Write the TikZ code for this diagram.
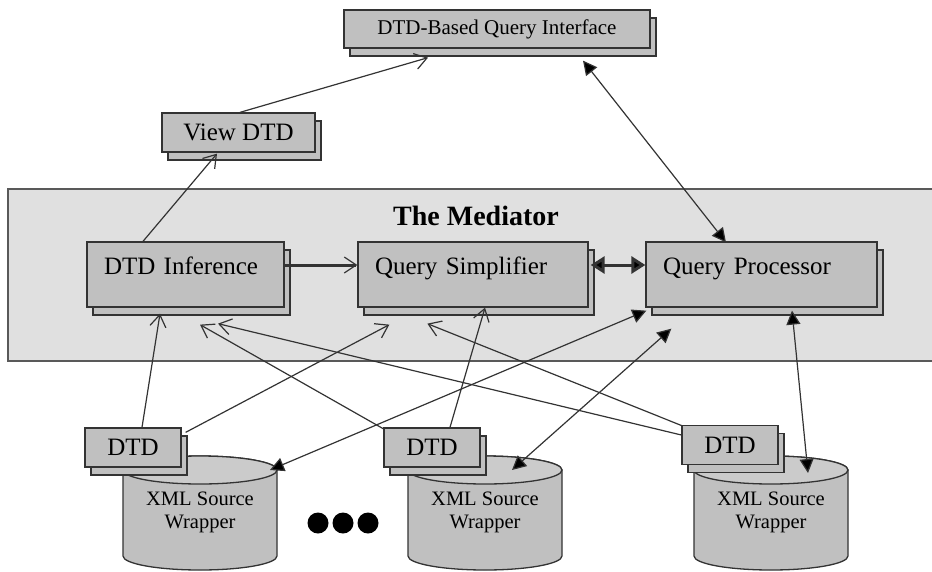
\documentclass[tikz,border=0pt]{standalone}
\usepackage{fontspec}
\setmainfont{Liberation Serif}
\usetikzlibrary{arrows.meta,calc,shadows,positioning}

\definecolor{boxgray}{HTML}{C0C0C0}
\definecolor{medgray}{HTML}{E0E0E0}
\definecolor{topgray}{HTML}{CBCBCB}
\definecolor{edgegray}{HTML}{333333}

\tikzset{
  stackbox/.style={draw=edgegray, fill=boxgray, line width=1.3pt, inner sep=0pt,
    copy shadow={shadow xshift=6pt, shadow yshift=-8pt}},
  medbox/.style={stackbox, minimum height=65pt, text width=#1, align=left,
    inner xsep=17pt, inner ysep=0pt, text height=32pt, text depth=33pt,
    font=\fontsize{25}{30}\selectfont},
  dtdbox/.style={stackbox, minimum width=96pt, minimum height=39pt,
    font=\fontsize{25}{30}\selectfont},
  conn/.style={draw=edgegray, line width=1.2pt},
  openarr/.style={conn, -{Straight Barb[length=12pt,width=16pt]}},
  fillarr/.style={conn, {Triangle[length=14pt,width=14pt,fill=black]}-{Triangle[length=14pt,width=14pt,fill=black]}},
  cylbody/.style={draw=edgegray, fill=boxgray, line width=1.3pt},
  cyltop/.style={draw=edgegray, fill=topgray, line width=1.3pt},
  srctext/.style={align=center, font=\fontsize{20.5}{23}\selectfont},
}

% one XML source: cylinder, named top point and label
\newcommand{\srccyl}[2]{%
  \filldraw[cylbody] (#2-77,-470) -- (#2-77,-556)
    arc[start angle=180, end angle=360, x radius=77, y radius=14]
    -- (#2+77,-470) arc[start angle=0, end angle=180, x radius=77, y radius=14] -- cycle;
  \filldraw[cyltop] (#2,-470) ellipse[x radius=77, y radius=14];
  \coordinate (#1top) at (#2,-470);
  \node[srctext] (#1) at (#2,-512) {XML Source\\Wrapper};
}

\begin{document}
\begin{tikzpicture}[x=1pt, y=1pt]
    \useasboundingbox (0,0) rectangle (932,-571);

    % mediator frame and title
    \node[draw=black!65, fill=medgray, line width=1.5pt, minimum width=932pt, minimum height=172pt] (med) at (474,-275) {};
    \node[anchor=base, font=\fontsize{28}{32}\selectfont\bfseries] (medtitle) at (476,-225) {The Mediator};

    % the three mediator components
    \node[medbox=163pt] (inf) at (185.5,-274.5) {DTD Inference};
    \node[medbox=196pt] (simp) at (473,-274.5) {Query Simplifier};
    \node[medbox=197pt] (proc) at (761.5,-274.5) {Query Processor};

    % boxes above the mediator
    \node[stackbox, minimum width=306pt, minimum height=38pt, font=\fontsize{21}{25}\selectfont] (qi) at (497,-29) {DTD-Based Query Interface};
    \node[stackbox, minimum width=153pt, minimum height=39pt, font=\fontsize{25}{30}\selectfont] (view) at (238.5,-132.5) {View DTD};

    % sources
    \srccyl{src1}{200}
    \srccyl{src2}{485}
    \srccyl{src3}{771}

    \node[dtdbox] (dtd1) at (133,-447.5) {DTD};
    \node[dtdbox] (dtd2) at (432,-447.5) {DTD};
    \node[dtdbox] (dtd3) at (730,-445) {DTD};

    % dots between the sources
    \foreach \dx [count=\i] in {318,343,368}
        \fill[black] (\dx,-523) circle[radius=10.5] coordinate (dot\i);

    % top part
    \draw[openarr] ($(inf.north)+(-42.5,0)$) -- ($(view.south)+(-21.5,-1)$);
    \draw[openarr] ($(view.north)+(1.5,0)$) -- ($(qi.south)+(-69,-9)$);
    \draw[fillarr] ($(proc.north)+(-35.5,-1)$) -- ($(qi.south)+(86,-12)$);

    % inside the mediator
    \draw[conn, line width=3pt, -{Straight Barb[length=12pt,width=16pt,line width=1.2pt]}] ($(inf.east)+(0,9.5)$) -- ($(simp.west)+(0,9.5)$);
    \draw[conn, line width=3pt, {Triangle[length=14pt,width=17pt,fill=black]}-{Triangle[length=14pt,width=17pt,fill=black]}] ($(simp.east)+(2,9.5)$) -- ($(proc.west)+(0,9.5)$);

    % DTDs up to the mediator
    \draw[openarr] ($(dtd1.north)+(9,0)$) -- ($(inf.south)+(-25.5,-6)$);
    \draw[openarr] ($(dtd1.north east)+(4,-5)$) -- ($(simp.south west)+(32,-17)$);
    \draw[openarr] ($(dtd2.north west)+(1,-2)$) -- ($(inf.south)+(14.5,-17)$);
    \draw[openarr] ($(dtd3.west)+(0,10)$) -- ($(inf.south)+(32.5,-16)$);
    \draw[openarr] ($(dtd3.north west)+(1,-1)$) -- ($(simp.south west)+(70,-16)$);
    \draw[openarr] ($(dtd2.north)+(18,0)$) -- ($(simp.south)+(12,0)$);

    % query processor to the wrappers
    \draw[fillarr] ($(src1top)+(70,0)$) -- ($(proc.south west)+(1,-3)$);
    \draw[fillarr] ($(src2top)+(27,0)$) -- ($(proc.south west)+(26,-21)$);
    \draw[fillarr] ($(src3top)+(37,-3)$) -- ($(proc.south)+(30.5,-3)$);
\end{tikzpicture}
\end{document}
